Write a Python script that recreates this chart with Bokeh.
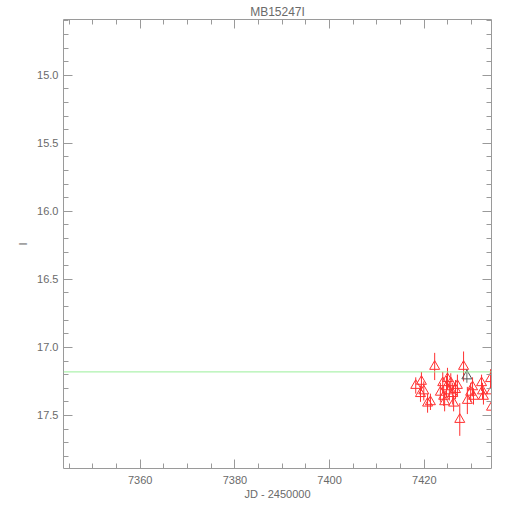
from bokeh.plotting import figure
from bokeh.models import Range1d, FixedTicker, LinearAxis, Span, ColumnDataSource, CustomJSTickFormatter
from bokeh.embed import file_html
from bokeh.resources import INLINE

# Red (OGLE-like) photometry: JD-2450000, I mag, error
jd = [7418.2, 7419.4, 7419.2, 7419.9, 7420.7, 7421.3, 7422.2, 7423.4, 7423.9, 7424.1,
      7424.3, 7424.7, 7424.9, 7425.3, 7425.6, 7426.0, 7426.2, 7426.6, 7427.0, 7427.5,
      7428.3, 7429.1, 7429.8, 7430.2, 7430.4, 7432.1, 7432.3, 7432.5, 7434.0, 7434.2,
      7434.2]
mag = [17.28, 17.25, 17.34, 17.32, 17.41, 17.40, 17.14, 17.33, 17.26, 17.36,
       17.40, 17.29, 17.23, 17.32, 17.26, 17.34, 17.41, 17.31, 17.28, 17.53,
       17.14, 17.39, 17.33, 17.29, 17.36, 17.26, 17.32, 17.36, 17.23, 17.32,
       17.44]
err = [0.06, 0.07, 0.06, 0.07, 0.07, 0.06, 0.10, 0.07, 0.08, 0.07,
       0.07, 0.08, 0.08, 0.07, 0.07, 0.08, 0.06, 0.07, 0.08, 0.12,
       0.11, 0.10, 0.07, 0.07, 0.06, 0.06, 0.06, 0.06, 0.07, 0.07,
       0.06]

# Second dataset (dark point)
jd2 = [7429.0]
mag2 = [17.21]
err2 = [0.05]

baseline = 17.18

xticks = [7360, 7380, 7400, 7420]
yticks = [15.0, 15.5, 16.0, 16.5, 17.0, 17.5]
xminor = list(range(7345, 7436, 5))
yminor = [round(14.6 + 0.1 * i, 1) for i in range(33)]

p = figure(width=502, height=502, output_backend="svg", toolbar_location=None,
           x_range=Range1d(7343.8, 7434.2), y_range=Range1d(17.89, 14.59),
           min_border_left=63, min_border_right=11, min_border_top=19, min_border_bottom=32,
           background_fill_color="white", border_fill_color="white")
p.title = None
p.grid.visible = False
p.outline_line_color = None

axis_col = "#9a9a9a"
text_col = "#6a6a6a"
font = "Liberation Sans"

def style(ax, labels=True):
    ax.axis_line_color = axis_col
    ax.major_tick_line_color = axis_col
    ax.minor_tick_line_color = axis_col
    ax.major_tick_in = 9
    ax.major_tick_out = 0
    ax.minor_tick_in = 5
    ax.minor_tick_out = 0
    ax.major_label_text_color = text_col
    ax.major_label_text_font = font
    ax.major_label_text_font_size = "11px"
    ax.axis_label_text_color = text_col
    ax.axis_label_text_font = font
    ax.axis_label_text_font_size = "11px"
    ax.axis_label_text_font_style = "normal"
    if not labels:
        ax.major_label_text_font_size = "0px"
        ax.major_label_text_alpha = 0
        ax.major_label_standoff = 0

p.xaxis.ticker = FixedTicker(ticks=xticks, minor_ticks=xminor)
p.yaxis.ticker = FixedTicker(ticks=yticks, minor_ticks=yminor)
p.xaxis.axis_label = "JD - 2450000"
p.yaxis.axis_label = "I"
p.xaxis.major_label_standoff = 7
p.yaxis.major_label_standoff = 5
p.xaxis.axis_label_standoff = 1
p.yaxis.axis_label_standoff = 5
p.yaxis.formatter = CustomJSTickFormatter(code="return tick.toFixed(1);")
style(p.xaxis[0])
style(p.yaxis[0])

top = LinearAxis(ticker=FixedTicker(ticks=xticks, minor_ticks=xminor))
style(top, labels=False)
top.axis_label = "MB15247I"
top.axis_label_text_font_size = "12px"
top.axis_label_standoff = 1
p.add_layout(top, "above")
right = LinearAxis(ticker=FixedTicker(ticks=yticks, minor_ticks=yminor))
style(right, labels=False)
p.add_layout(right, "right")

p.add_layout(Span(location=baseline, dimension="width", line_color="#99ee99", line_width=1))

src = ColumnDataSource(dict(x=jd, y=mag, lo=[m - e for m, e in zip(mag, err)],
                            hi=[m + e for m, e in zip(mag, err)]))
p.segment(x0="x", y0="lo", x1="x", y1="hi", source=src, line_color="#ff3030", line_width=1)
p.scatter(x="x", y="y", source=src, marker="triangle", size=10,
          fill_color=None, line_color="#ff3030", line_width=1)

src2 = ColumnDataSource(dict(x=jd2, y=mag2, lo=[m - e for m, e in zip(mag2, err2)],
                             hi=[m + e for m, e in zip(mag2, err2)]))
p.segment(x0="x", y0="lo", x1="x", y1="hi", source=src2, line_color="#666666", line_width=1)
p.scatter(x="x", y="y", source=src2, marker="triangle", size=10,
          fill_color=None, line_color="#555555", line_width=1)

open("out.html", "w").write(file_html(p, INLINE))
